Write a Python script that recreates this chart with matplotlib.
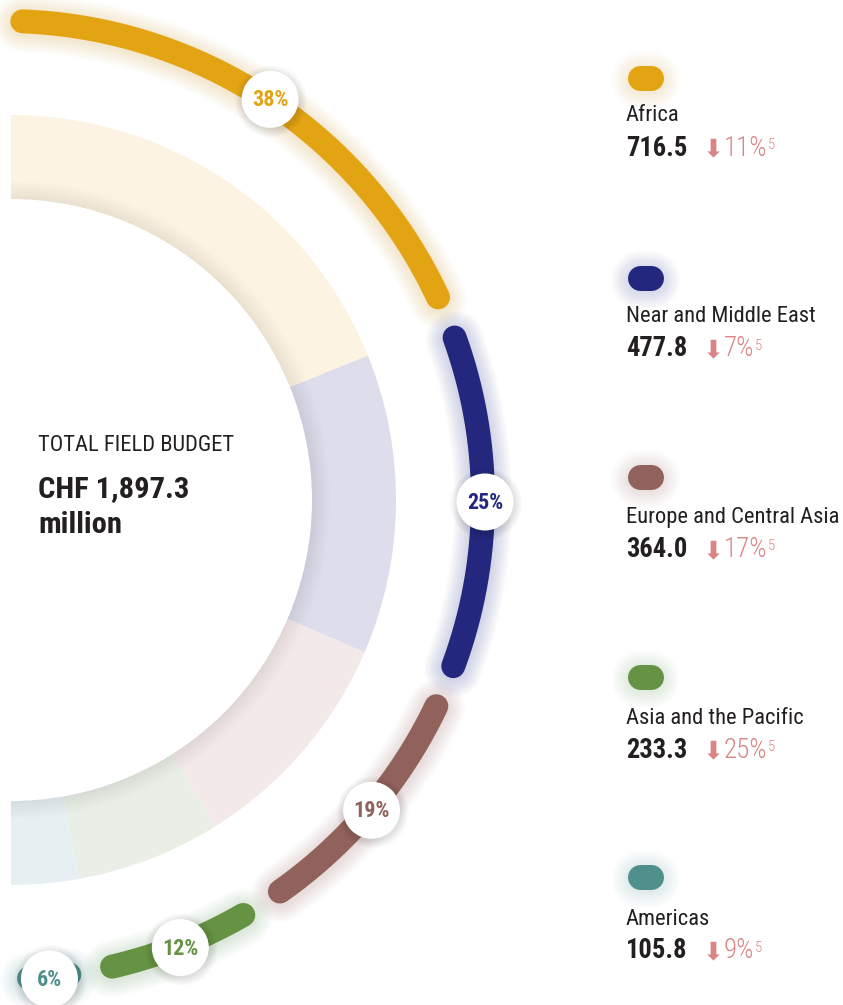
import matplotlib
matplotlib.use("Agg")
import matplotlib.pyplot as plt
import numpy as np
from matplotlib.patches import Wedge, Circle

# data
regions = ["Africa", "Near and Middle East", "Europe and Central Asia",
           "Asia and the Pacific", "Americas"]
budget = [716.5, 477.8, 364.0, 233.3, 105.8]
change_pct = [11, 7, 17, 25, 9]
footnote = "5"
total_budget = 1897.3

colors = ["#E3A414", "#23287E", "#91625B", "#659243", "#4F8F8C"]
pale = ["#FCF3E3", "#DEDDEB", "#F2E9E8", "#E9EFE6", "#E6F0F2"]

FONT = ["Roboto Condensed", "DejaVu Sans"]
TXT = "#231F20"
RED = "#D98585"
PT = 0.72  # px -> pt at 100 dpi

fig = plt.figure(figsize=(8.43, 10.05), dpi=100)
ax = fig.add_axes([0, 0, 1, 1])
ax.set_xlim(0, 843)
ax.set_ylim(1005, 0)
ax.axis("off")

frac = np.array(budget) / sum(budget)
edges = 90 - 180 * np.concatenate([[0], np.cumsum(frac)])

# inner pale ring
icx, icy = 11, 500
r_out, r_in = 385, 301
for i in range(len(budget)):
    ax.add_patch(Wedge((icx, icy), r_out, -edges[i], -edges[i + 1],
                       width=r_out - r_in, facecolor=pale[i], edgecolor="none", zorder=1))
# soft shadow of the white centre on the ring
for k in range(1, 10):
    ax.add_patch(Wedge((icx, icy), r_in + 2 * k, -90, 90, width=2 * k,
                       facecolor="black", edgecolor="none", alpha=0.007, zorder=2))

# outer arcs
ocx, ocy, R = 4, 500, 479
pad_start, pad_end = 2.2, 3.0
for i in range(len(budget)):
    a0 = edges[i] - pad_start
    a1 = edges[i + 1] + pad_end
    th = np.radians(np.linspace(a0, a1, 300))
    x = ocx + R * np.cos(th)
    y = ocy - R * np.sin(th)
    for w in np.linspace(58, 26, 12):
        ax.plot(x, y + 2, color=colors[i], lw=w * PT, alpha=0.014,
                solid_capstyle="round", zorder=3)
    ax.plot(x, y, color=colors[i], lw=24 * PT, solid_capstyle="round", zorder=4)

    mid = np.radians((a0 + a1) / 2)
    lx = ocx + 481 * np.cos(mid)
    ly = ocy - 481 * np.sin(mid)
    for rr in np.linspace(36, 29, 6):
        ax.add_patch(Circle((lx + 1, ly + 2), rr, facecolor="black",
                            edgecolor="none", alpha=0.018, zorder=5))
    ax.add_patch(Circle((lx, ly), 28.5, facecolor="white", edgecolor="none", zorder=6))
    ax.text(lx, ly + 1, f"{round(frac[i] * 100):.0f}%", ha="center", va="center",
            fontsize=22 * PT, fontweight="bold", family=FONT, color=colors[i], zorder=7)

# centre text
ax.text(38, 451, "TOTAL FIELD BUDGET", fontsize=22.5 * PT, family=FONT,
        color=TXT, va="baseline", zorder=8)
ax.text(38, 497, f"CHF {total_budget:,.1f}", fontsize=30.5 * PT, fontweight="bold",
        family=FONT, color=TXT, va="baseline", zorder=8)
ax.text(38, 533, "million", fontsize=30.5 * PT, fontweight="bold",
        family=FONT, color=TXT, va="baseline", zorder=8)

# legend on the right
for i in range(len(regions)):
    py = 78 + 199.7 * i
    for w in np.linspace(58, 26, 10):
        ax.plot([639.5, 650.5], [py + 2, py + 2], color=colors[i], lw=w * PT,
                alpha=0.016, solid_capstyle="round", zorder=3)
    ax.plot([639.5, 650.5], [py, py], color=colors[i], lw=25 * PT,
            solid_capstyle="round", zorder=4)

    nb = 120.5 + 201 * i
    ax.text(626, nb, regions[i], fontsize=22.5 * PT, family=FONT, color=TXT,
            va="baseline")
    vb = 155.5 + 200.7 * i
    ax.text(626, vb, f"{budget[i]:.1f}", fontsize=26.5 * PT, fontweight="bold",
            family=FONT, color=TXT, va="baseline")
    ax.text(713, vb + 1, "\u2b07", fontsize=25 * PT, family="DejaVu Sans",
            color=RED, ha="center", va="baseline")
    t = ax.text(724, vb, f"{change_pct[i]}%", fontsize=27 * PT, fontweight="light",
                family=FONT, color=RED, va="baseline")
    ax.annotate(footnote, xy=(1, 1), xycoords=t, xytext=(0.5, -2.5),
                textcoords="offset points", fontsize=15 * PT, fontweight="light",
                family=FONT, color=RED, va="top", ha="left")

fig.savefig("out.png", dpi=100)
